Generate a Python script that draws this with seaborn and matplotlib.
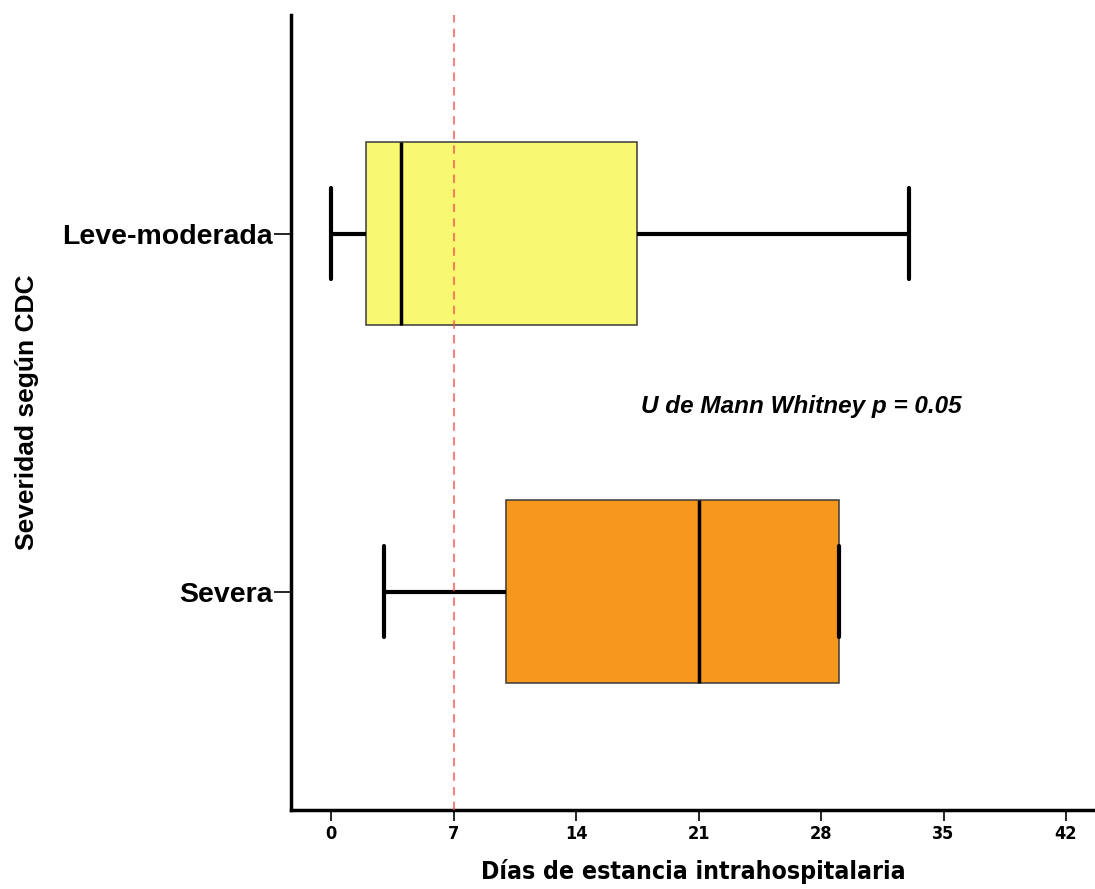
import numpy as np
import pandas as pd
import matplotlib
matplotlib.use("Agg")
import matplotlib.pyplot as plt
import seaborn as sns

# Five-number summaries (min, Q1, median, Q3, max)
groups = ["Leve-moderada", "Severa"]
leve_values = [0, 2, 4, 17.5, 33]
severa_values = [3, 10, 21, 29, 29]
group_colors = ["#F9F871", "#F7981D"]
x_ticks = [0, 7, 14, 21, 28, 35, 42]
cutoff_day = 7
note_text = "U de Mann Whitney p = 0.05"

NARROW = dict(family="DejaVu Sans", fontstretch="condensed")


def build_frame():
    """Long-format table for seaborn."""
    rows = []
    for name, vals in zip(groups, [leve_values, severa_values]):
        for v in vals:
            rows.append([name, v])
    return pd.DataFrame(rows, columns=["Severidad", "Dias"])


def main():
    sns.set_style("white")
    plt.rcParams["font.family"] = ["Liberation Sans", "DejaVu Sans"]
    plt.rcParams["text.color"] = "black"
    plt.rcParams["axes.labelcolor"] = "black"

    df = build_frame()
    fig = plt.figure(figsize=(10.95, 8.89), dpi=100)
    ax = fig.add_axes([0.2658, 0.0889, 0.7342, 0.894])

    sns.boxplot(
        data=df, x="Dias", y="Severidad", hue="Severidad",
        order=groups, hue_order=groups, palette=group_colors,
        saturation=1, width=0.51, whis=1.5, legend=False, ax=ax,
        boxprops=dict(edgecolor="#3a3a3a", linewidth=1.1),
        medianprops=dict(color="black", linewidth=2.5),
        whiskerprops=dict(color="black", linewidth=3),
        capprops=dict(color="black", linewidth=3),
        showfliers=False,
    )

    ax.axvline(cutoff_day, color="#F05050", alpha=0.7, linestyle=(0, (4, 3)),
               linewidth=1.5, zorder=5)

    ax.text(17.7, 0.483, note_text, fontsize=17.5, fontweight="bold",
            fontstyle="italic", va="center", ha="left", color="black")

    ax.set_xlim(-2.3, 43.66)
    ax.set_ylim(1.61, -0.61)
    ax.set_xticks(x_ticks)
    ax.set_xticklabels([str(t) for t in x_ticks], fontweight="bold",
                       fontsize=13, **NARROW)
    ax.set_yticks([0, 1])
    ax.set_yticklabels(groups, fontsize=20.5, fontweight="bold")

    ax.set_xlabel("Días de estancia intrahospitalaria", fontsize=17.8,
                  fontweight="bold", labelpad=11, **NARROW)
    ax.set_ylabel("Severidad según CDC", fontsize=19, fontweight="bold",
                  labelpad=17)

    for side in ["top", "right"]:
        ax.spines[side].set_visible(False)
    for side in ["left", "bottom"]:
        ax.spines[side].set_linewidth(2.5)
        ax.spines[side].set_color("black")

    ax.tick_params(axis="x", bottom=True, direction="out", length=8,
                   width=1.2, colors="black", pad=3)
    ax.tick_params(axis="y", left=True, direction="out", length=12,
                   width=1.2, colors="black", pad=1)

    fig.savefig("out.png", dpi=100)


if __name__ == "__main__":
    main()
